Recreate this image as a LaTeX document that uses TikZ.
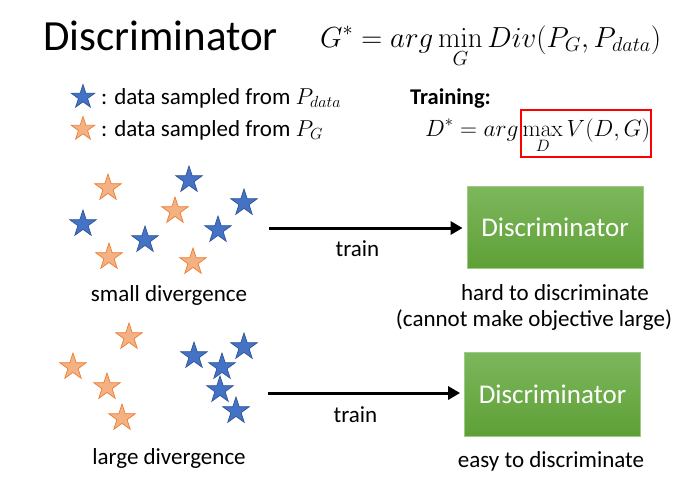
\RequirePackage{fix-cm}
\documentclass[tikz,border=0pt]{standalone}
\usepackage{amsmath}
\usepackage[no-math]{fontspec}
\setmainfont{Carlito}
\usetikzlibrary{shapes.geometric,arrows.meta}
\definecolor{sblue}{HTML}{4472C4}
\definecolor{sblueD}{HTML}{2F5597}
\definecolor{sorange}{HTML}{F4B183}
\definecolor{sorangeD}{HTML}{ED7D31}
\definecolor{gtop}{HTML}{7DB75D}
\definecolor{gbot}{HTML}{5EA036}
\definecolor{gline}{HTML}{9CCB86}
\begin{document}
\begin{tikzpicture}[x=1pt,y=-1pt,
  starbase/.style={star,star points=5,star point ratio=2.6,minimum size=28pt,inner sep=0pt,line width=0.7pt},
  bstar/.style={starbase,fill=sblue,draw=sblueD},
  ostar/.style={starbase,fill=sorange,draw=sorangeD},
  lbstar/.style={bstar,minimum size=25pt},
  lostar/.style={ostar,minimum size=25pt},
  body/.style={inner sep=0pt,font=\fontsize{23}{27}\selectfont},
  discbox/.style={rectangle,top color=gtop,bottom color=gbot,draw=gline,line width=0.8pt,
    minimum width=176pt,minimum height=82pt,text=white,font=\fontsize{27}{32}\selectfont},
  trainarrow/.style={-{Triangle[length=12pt,width=13pt]},line width=3pt,shorten >=4pt}]
\useasboundingbox (0,0) rectangle (692,479);

% header
\node[anchor=base west,inner sep=0pt,font=\fontsize{43}{50}\selectfont] (title) at (43,50) {Discriminator};
\node[anchor=base west,inner sep=0pt,font=\fontsize{29}{34}\selectfont] (geq) at (320,47)
  {$\displaystyle G^{*} = arg\min_{G} Div(P_{G}, P_{data})$};

% legend
\node[lbstar] (lb) at (83,97) {};
\node[lostar] (lo) at (83,129) {};
\node[body,anchor=base west] (lbt) at (101,104) {: data sampled from $P_{data}$};
\node[body,anchor=base west] (lot) at (101,136) {: data sampled from $P_{G}$};
\node[body,anchor=base west,font=\fontsize{22.5}{26}\selectfont\bfseries] (trn) at (410,104) {Training:};
\node[anchor=base west,inner sep=0pt,font=\fontsize{23.5}{28}\selectfont] (deq) at (425,136)
  {$\displaystyle D^{*} = arg\max_{D} V(D,G)$};
\draw[red,line width=2pt] (521,110) rectangle (651,157);

% small divergence
\node[ostar] (s1) at (108,188) {};
\node[bstar] (s2) at (189,180) {};
\node[ostar] (s3) at (175,211) {};
\node[bstar] (s4) at (244,203) {};
\node[bstar] (s5) at (83,224) {};
\node[bstar] (s6) at (218,230) {};
\node[bstar] (s7) at (145,240) {};
\node[ostar] (s8) at (109,257) {};
\node[ostar] (s9) at (193,262) {};
\node[body,anchor=base] (smalll) at (169,301) {small divergence};

% large divergence
\node[ostar] (l1) at (129,337) {};
\node[ostar] (l2) at (73,367) {};
\node[ostar] (l3) at (107,387) {};
\node[ostar] (l4) at (122,418) {};
\node[bstar] (l5) at (194,356) {};
\node[bstar] (l6) at (244,347) {};
\node[bstar] (l7) at (222,367) {};
\node[bstar] (l8) at (220,390) {};
\node[bstar] (l9) at (236,411) {};
\node[body,anchor=base] (largel) at (169,464) {large divergence};

% discriminators
\node[discbox] (d1) at (555,227.5) {Discriminator};
\node[discbox,minimum height=84pt] (d2) at (552.5,394) {Discriminator};
\coordinate (a1) at (269,228);
\coordinate (a2) at (268,393);
\draw[trainarrow] (a1) -- (a1 -| d1.west);
\draw[trainarrow] (a2) -- (a2 -| d2.west);
\node[body,anchor=base] (t1) at (357.5,256) {train};
\node[body,anchor=base] (t2) at (355.5,422) {train};

\node[body,anchor=base] (h1) at (555,300) {hard to discriminate};
\node[body,anchor=base] (h2) at (534,326) {(cannot make objective large)};
\node[body,anchor=base] (e1) at (551,467) {easy to discriminate};
\end{tikzpicture}
\end{document}
